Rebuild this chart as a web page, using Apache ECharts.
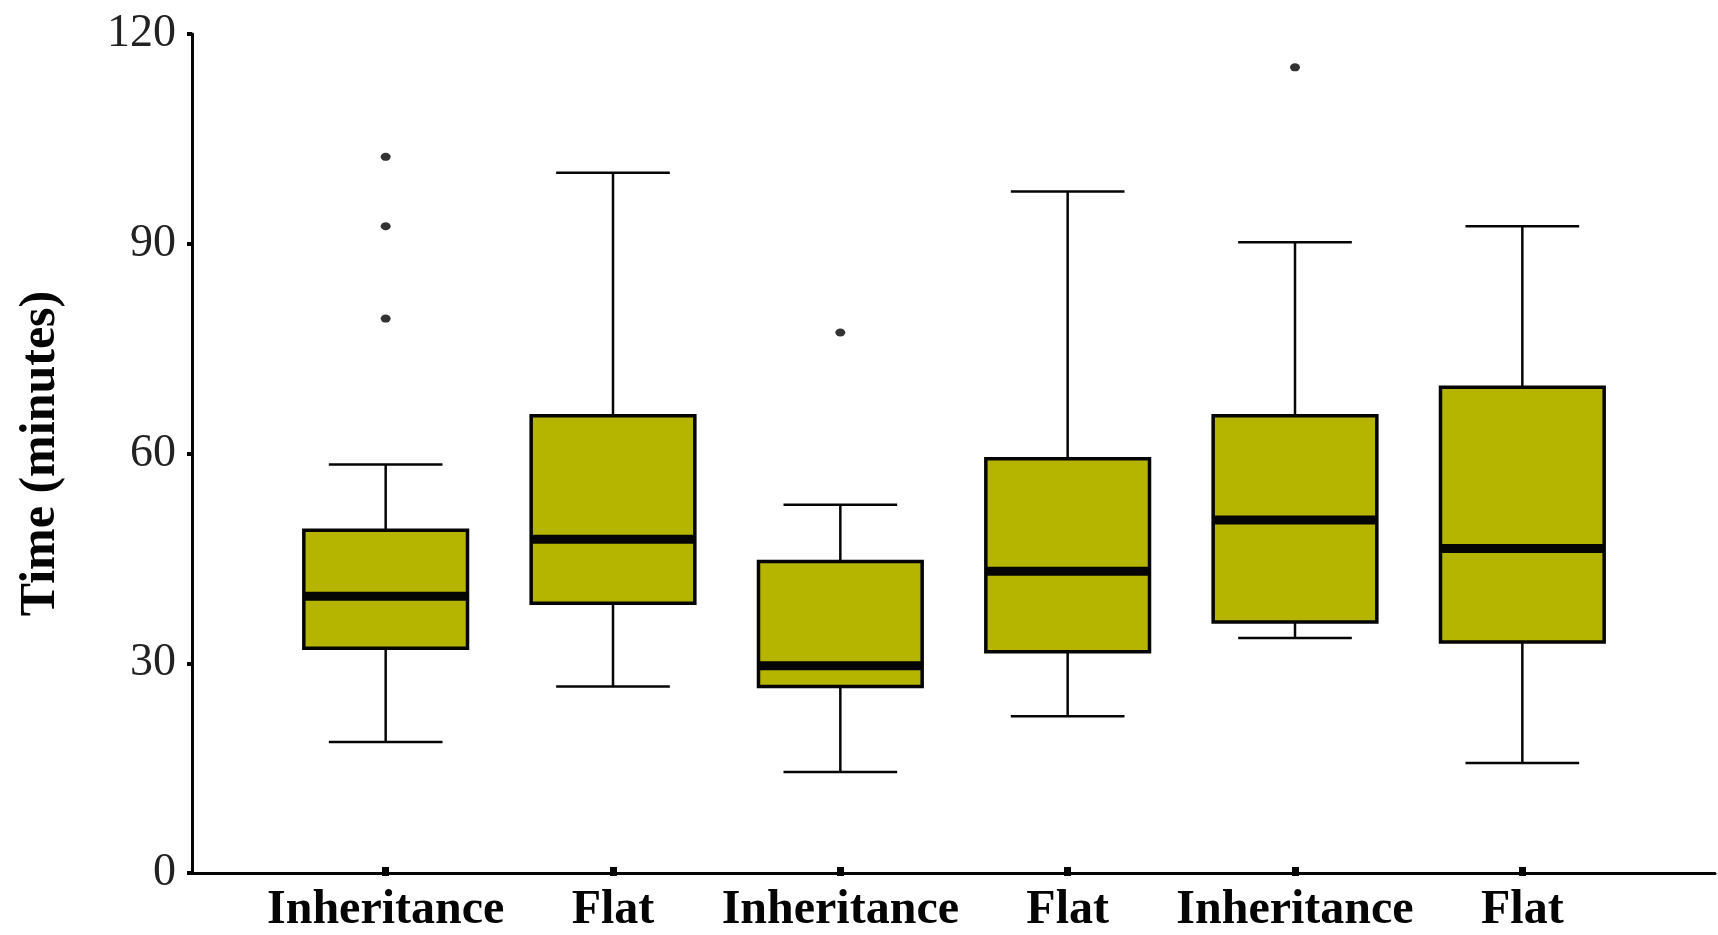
<!DOCTYPE html>
<html>
<head>
<meta charset="utf-8">
<script src="https://cdn.jsdelivr.net/npm/echarts@6/dist/echarts.min.js"></script>
<style>
  html, body { margin: 0; padding: 0; background: #fff; }
  #chart { width: 1718px; height: 935px; }
</style>
</head>
<body>
<div id="chart"></div>
<script>
// ---- data ----
const categories = ['Inheritance', 'Flat', 'Inheritance', 'Flat', 'Inheritance', 'Flat'];
// [lower whisker, Q1, median, Q3, upper whisker]
const lowerWhisker = [18, 26, 13.7, 21.7, 33, 15];
const q1Values     = [31.5, 38, 26, 31, 35.3, 32.4];
const medianValues = [39, 47.2, 29, 42.6, 50, 45.9];
const q3Values     = [48.5, 65, 44, 58.8, 65, 69.1];
const upperWhisker = [58, 100, 52.2, 97.3, 90, 92.3];
// outliers: [category index, value]
const outlierCategory = [0, 0, 0, 2, 4];
const outlierValues   = [102.3, 92.3, 79, 77, 115.2];
const yTicks = [0, 30, 60, 90, 120];

const boxData = categories.map((c, i) => [i, lowerWhisker[i], q1Values[i], medianValues[i], q3Values[i], upperWhisker[i]]);
const outlierData = outlierCategory.map((c, i) => [c, outlierValues[i]]);

const BOX_FILL = '#b5b500';
const INK = '#050505';

function renderBox(params, api) {
  const x = api.value(0);
  const low = api.coord([x, api.value(1)]);
  const q1 = api.coord([x, api.value(2)]);
  const med = api.coord([x, api.value(3)]);
  const q3 = api.coord([x, api.value(4)]);
  const high = api.coord([x, api.value(5)]);
  const band = api.size([1, 0])[0];
  const bw = band * 0.72;
  const cw = band * 0.5;
  const cx = low[0];
  const wStyle = { stroke: INK, lineWidth: 2.5 };
  return {
    type: 'group',
    children: [
      { type: 'line', shape: { x1: cx, y1: high[1], x2: cx, y2: q3[1] }, style: wStyle },
      { type: 'line', shape: { x1: cx, y1: q1[1], x2: cx, y2: low[1] }, style: wStyle },
      { type: 'line', shape: { x1: cx - cw / 2, y1: high[1], x2: cx + cw / 2, y2: high[1] }, style: wStyle },
      { type: 'line', shape: { x1: cx - cw / 2, y1: low[1], x2: cx + cw / 2, y2: low[1] }, style: wStyle },
      { type: 'rect', shape: { x: cx - bw / 2, y: q3[1], width: bw, height: q1[1] - q3[1] },
        style: { fill: BOX_FILL, stroke: INK, lineWidth: 3.5 } },
      { type: 'line', shape: { x1: cx - bw / 2, y1: med[1], x2: cx + bw / 2, y2: med[1] },
        style: { stroke: INK, lineWidth: 9 } }
    ]
  };
}

const chart = echarts.init(document.getElementById('chart'), null, { renderer: 'canvas' });
const yMin = yTicks[0], yMax = yTicks[yTicks.length - 1], yStep = yTicks[1] - yTicks[0];

chart.setOption({
  animation: false,
  backgroundColor: '#ffffff',
  grid: [
    { left: 192, right: 3, top: 34, bottom: 62 },
    { left: 272, right: 82, top: 34, bottom: 62 }
  ],
  xAxis: [
    { type: 'value', gridIndex: 0, min: 0, max: 1,
      axisLine: { show: true, onZero: false, lineStyle: { color: INK, width: 3 } },
      axisTick: { show: false }, axisLabel: { show: false }, splitLine: { show: false } },
    { type: 'category', gridIndex: 1, data: categories, boundaryGap: true,
      axisLine: { show: false },
      axisTick: { show: true, alignWithLabel: true, length: 9, lineStyle: { color: INK, width: 7 } },
      axisLabel: { show: true, interval: 0, margin: 20, color: INK,
        fontFamily: 'Liberation Serif, DejaVu Serif, serif', fontWeight: 'bold', fontSize: 48 },
      splitLine: { show: false } }
  ],
  yAxis: [
    { type: 'value', gridIndex: 0, min: yMin, max: yMax, interval: yStep,
      name: 'Time (minutes)', nameLocation: 'middle', nameGap: 126,
      nameTextStyle: { fontFamily: 'Liberation Serif, DejaVu Serif, serif', fontWeight: 'bold', fontSize: 50, color: INK },
      axisLine: { show: true, lineStyle: { color: INK, width: 3 } },
      axisTick: { show: true, length: 5, lineStyle: { color: INK, width: 4 } },
      axisLabel: { margin: 16, color: '#222', fontFamily: 'Liberation Serif, DejaVu Serif, serif', fontSize: 46 },
      splitLine: { show: false } },
    { type: 'value', gridIndex: 1, min: yMin, max: yMax, interval: yStep, show: false }
  ],
  series: [
    { type: 'custom', xAxisIndex: 1, yAxisIndex: 1, renderItem: renderBox,
      encode: { x: 0, y: [1, 2, 3, 4, 5] }, data: boxData, z: 3 },
    { type: 'scatter', xAxisIndex: 1, yAxisIndex: 1, data: outlierData,
      symbol: 'circle', symbolSize: [10, 8], itemStyle: { color: '#000' }, z: 4 }
  ]
});
</script>
</body>
</html>
